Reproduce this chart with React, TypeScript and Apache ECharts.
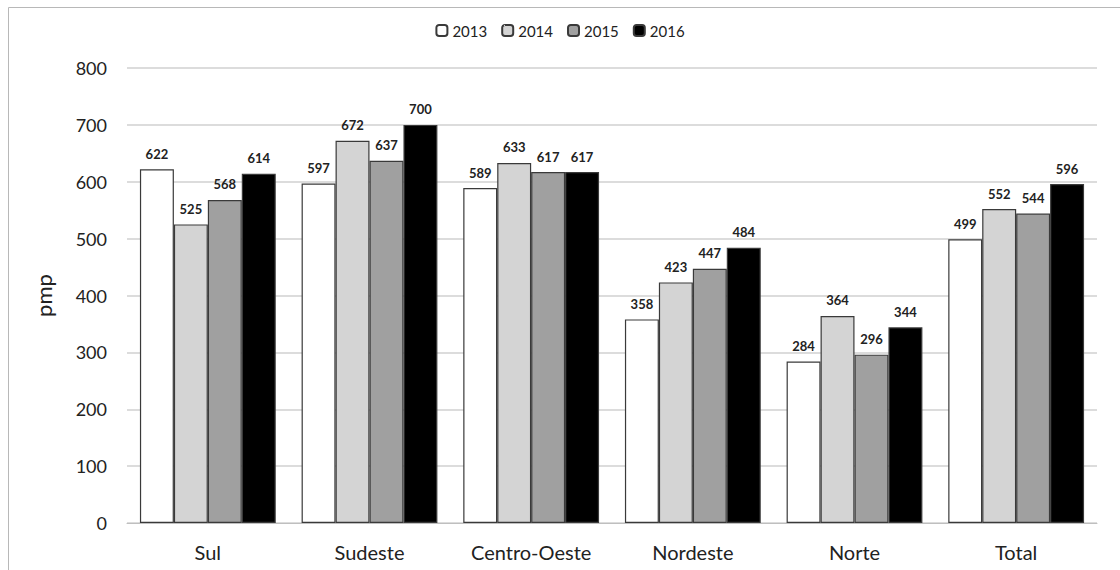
import React, { useEffect, useRef } from "react";
import * as echarts from "echarts";

const regions = ["Sul", "Sudeste", "Centro-Oeste", "Nordeste", "Norte", "Total"];
const years = ["2013", "2014", "2015", "2016"];
const v2013 = [622, 597, 589, 358, 284, 499];
const v2014 = [525, 672, 633, 423, 364, 552];
const v2015 = [568, 637, 617, 447, 296, 544];
const v2016 = [614, 700, 617, 484, 344, 596];
const yTicks = [0, 100, 200, 300, 400, 500, 600, 700, 800];

const seriesValues = [v2013, v2014, v2015, v2016];
const fills = ["#ffffff", "#d4d4d4", "#a0a0a0", "#000000"];
const FONT = "Lato, 'Open Sans', sans-serif";

export default function App() {
  const ref = useRef<HTMLDivElement>(null);

  useEffect(() => {
    if (!ref.current) return;
    const chart = echarts.init(ref.current, null, { renderer: "svg" });
    chart.setOption({
      animation: false,
      backgroundColor: "#ffffff",
      textStyle: { fontFamily: FONT },
      graphic: [
        {
          type: "rect",
          shape: { x: 8.5, y: 7.5, width: 1200, height: 700 },
          style: { fill: "none", stroke: "#b8b8b8", lineWidth: 1 },
          silent: true,
        },
      ],
      legend: {
        top: 18,
        left: "center",
        itemWidth: 11,
        itemHeight: 11,
        itemGap: 14,
        textStyle: { fontSize: 15, color: "#222", fontFamily: FONT },
        data: years,
      },
      grid: { left: 127, right: 23, top: 68, bottom: 47, containLabel: false },
      xAxis: {
        type: "category",
        data: regions,
        axisLine: { lineStyle: { color: "#bfbfbf", width: 1 } },
        axisTick: { show: false },
        axisLabel: { interval: 0, fontSize: 20, color: "#222", margin: 19, fontFamily: FONT },
      },
      yAxis: {
        type: "value",
        min: yTicks[0],
        max: yTicks[yTicks.length - 1],
        interval: 100,
        name: "pmp",
        nameLocation: "middle",
        nameRotate: 90,
        nameGap: 73,
        nameTextStyle: { fontSize: 22, color: "#222", fontFamily: FONT },
        axisLine: { show: false },
        axisTick: { show: false },
        axisLabel: { fontSize: 18, color: "#222", margin: 20, fontFamily: FONT },
        splitLine: { lineStyle: { color: "#d0d0d0", width: 1.5 } },
      },
      series: years.map((y, i) => ({
        name: y,
        type: "bar",
        data: seriesValues[i],
        barGap: "0%",
        barCategoryGap: "16%",
        itemStyle: { color: fills[i], borderColor: "#3a3a3a", borderWidth: 1.2 },
        label: {
          show: true,
          position: "top",
          distance: 9,
          fontSize: 13,
          fontWeight: "bold",
          color: "#222",
          fontFamily: FONT,
        },
      })),
    });
    return () => chart.dispose();
  }, []);

  return (
    <div
      ref={ref}
      style={{ position: "fixed", left: 0, top: 0, width: 1120, height: 570 }}
    />
  );
}
